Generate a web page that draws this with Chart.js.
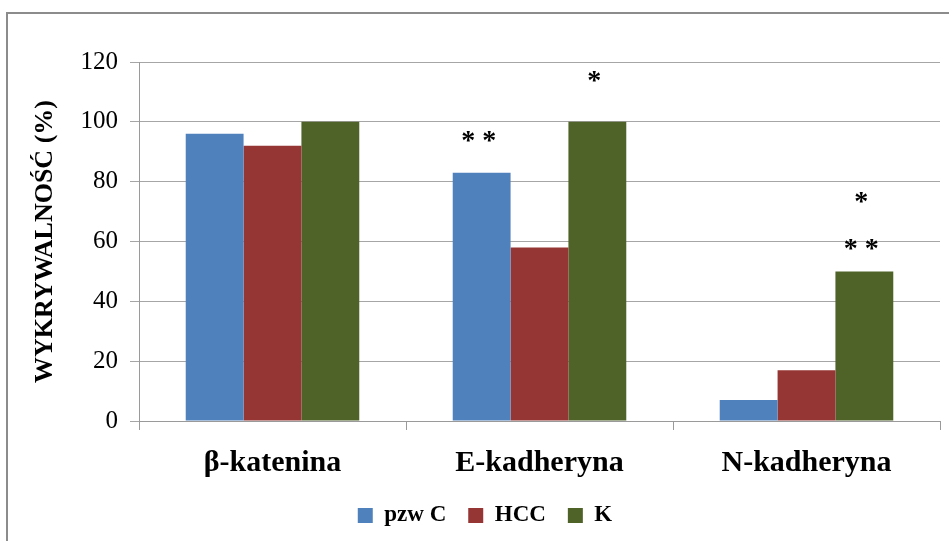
<!DOCTYPE html>
<html>
<head>
<meta charset="utf-8">
<script src="https://cdn.jsdelivr.net/npm/chart.js@4.4.1/dist/chart.umd.min.js"></script>
<style>
    body { margin: 0; background: #fff; }
    #wrap { width: 949px; height: 541px; position: relative; }
</style>
</head>
<body>
<div id="wrap"><canvas id="chart" width="949" height="541"></canvas></div>
<script>
const categories = ["β-katenina", "E-kadheryna", "N-kadheryna"];
const pzwC = [96, 83, 7];
const hcc = [92, 58, 17];
const kValues = [100, 100, 50];
const yTicks = [0, 20, 40, 60, 80, 100, 120];

// asterisks: category, dataset, height in axis units
const markCats = [1, 1, 2, 2];
const markSets = [0, 2, 2, 2];
const markLevels = [95, 115, 74.5, 59];
const markTexts = ["* *", "*", "*", "* *"];

const serif = "'Liberation Serif', 'Times New Roman', serif";

const frame = {
    id: "frame",
    beforeDraw(chart) {
        const ctx = chart.ctx;
        ctx.save();
        ctx.fillStyle = "#fff";
        ctx.fillRect(0, 0, chart.width, chart.height);
        ctx.strokeStyle = "#8c8c8c";
        ctx.lineWidth = 2;
        ctx.beginPath();
        ctx.moveTo(7, chart.height);
        ctx.lineTo(7, 13);
        ctx.lineTo(chart.width, 13);
        ctx.stroke();
        ctx.restore();
    }
};

const stars = {
    id: "stars",
    afterDatasetsDraw(chart) {
        const ctx = chart.ctx;
        const y = chart.scales.y;
        ctx.save();
        ctx.fillStyle = "#000";
        ctx.font = "bold 28px " + serif;
        ctx.textAlign = "center";
        ctx.textBaseline = "middle";
        markTexts.forEach((t, i) => {
            const bar = chart.getDatasetMeta(markSets[i]).data[markCats[i]];
            ctx.fillText(t, bar.x - 3, y.getPixelForValue(markLevels[i]) + 5);
        });
        ctx.restore();
    }
};

new Chart(document.getElementById("chart"), {
    type: "bar",
    data: {
        labels: categories,
        datasets: [
            { label: "pzw C", data: pzwC, backgroundColor: "#4f81bd" },
            { label: "HCC", data: hcc, backgroundColor: "#963634" },
            { label: "K", data: kValues, backgroundColor: "#4f6228" }
        ]
    },
    options: {
        responsive: false,
        animation: false,
        layout: { padding: { left: 30, right: 9, top: 62, bottom: 4 } },
        datasets: { bar: { barPercentage: 1, categoryPercentage: 0.65 } },
        plugins: {
            legend: {
                position: "bottom",
                labels: {
                    font: { family: serif, size: 23, weight: "bold" },
                    color: "#000",
                    boxWidth: 15,
                    boxHeight: 15,
                    padding: 22
                }
            },
            tooltip: { enabled: false }
        },
        scales: {
            x: {
                grid: { offset: true, drawOnChartArea: false, color: "#9a9a9a", tickLength: 9 },
                border: { color: "#9a9a9a" },
                ticks: {
                    font: { family: serif, size: 30, weight: "bold" },
                    color: "#000",
                    padding: 15
                },
                afterFit(scale) { scale.height = 61; }
            },
            y: {
                min: 0,
                max: 120,
                afterBuildTicks(scale) { scale.ticks = yTicks.map(v => ({ value: v })); },
                grid: { color: "#a6a6a6", tickLength: 9 },
                border: { color: "#9a9a9a" },
                ticks: {
                    font: { family: serif, size: 25 },
                    color: "#000",
                    padding: 12
                },
                title: {
                    display: true,
                    text: "WYKRYWALNOŚĆ (%)",
                    font: { family: serif, size: 26, weight: "bold" },
                    color: "#000",
                    padding: 0
                },
                afterFit(scale) { scale.width = 109; }
            }
        }
    },
    plugins: [frame, stars]
});
</script>
</body>
</html>
